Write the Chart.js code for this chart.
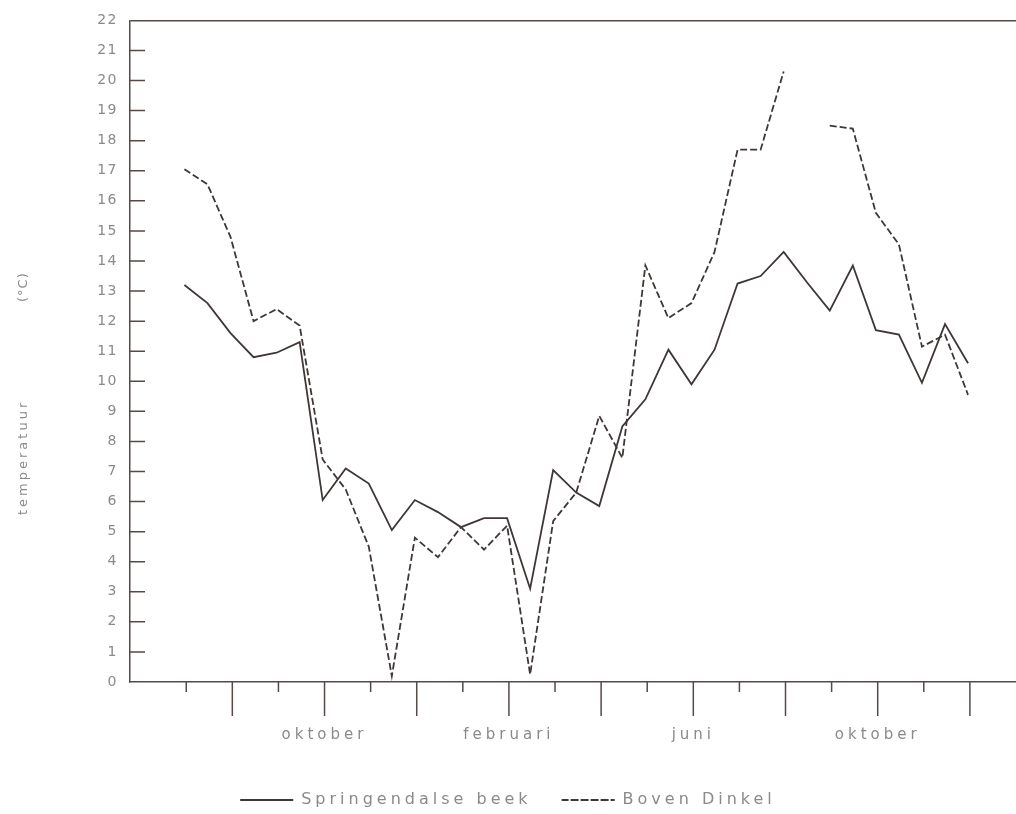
<!DOCTYPE html>
<html>
<head>
<meta charset="utf-8">
<title>temperatuur</title>
<script src="https://cdn.jsdelivr.net/npm/chart.js@4/dist/chart.umd.min.js"></script>
<style>
  html, body { margin: 0; padding: 0; background: #fff; }
  #wrap { width: 1016px; height: 814px; }
</style>
</head>
<body>
<div id="wrap"><canvas id="temperatuur"></canvas></div>
<script>
// bemonsteringsmomenten in maanden (7 = juli, 10 = oktober, 14 = februari, 18 = juni, 22 = oktober)
const maanden = [6.96, 7.46, 7.96, 8.46, 8.96, 9.46, 9.96, 10.46, 10.96, 11.46, 11.96, 12.46,
    12.96, 13.46, 13.96, 14.46, 14.96, 15.46, 15.96, 16.46, 16.96, 17.46, 17.96, 18.46,
    18.96, 19.46, 19.96, 20.46, 20.96, 21.46, 21.96, 22.46, 22.96, 23.46, 23.96]

const springendalse = [13.2, 12.6, 11.6, 10.8, 10.95, 11.3, 6.05, 7.1, 6.6, 5.05, 6.05, 5.65,
    5.15, 5.45, 5.45, 3.1, 7.05, 6.3, 5.85, 8.5, 9.4, 11.05, 9.9, 11.05,
    13.25, 13.5, 14.3, 13.3, 12.35, 13.85, 11.7, 11.55, 9.95, 11.9, 10.6]

const bovenDinkel = [17.05, 16.55, 14.8, 12.0, 12.4, 11.85, 7.4, 6.4, 4.5, 0.2, 4.8, 4.15,
    5.15, 4.4, 5.2, 0.25, 5.35, 6.3, 8.85, 7.45, 13.85, 12.1, 12.6, 14.3,
    17.7, 17.7, 20.3, null, 18.5, 18.4, 15.6, 14.55, 11.15, 11.55, 9.55]

const maandStreepjes = [7, 8, 9, 10, 11, 12, 13, 14, 15, 16, 17, 18, 19, 20, 21, 22, 23, 24]
const maandNamen = { 10: 'oktober', 14: 'februari', 18: 'juni', 22: 'oktober' }
const yTicks = [0, 1, 2, 3, 4, 5, 6, 7, 8, 9, 10, 11, 12, 13, 14, 15, 16, 17, 18, 19, 20, 21, 22]

const lijnKleur = '#3f3735'
const asKleur = '#564a46'
const tekstKleur = '#8a8a8a'

const letterafstand = {
    id: 'letterafstand',
    beforeLayout(chart) { chart.ctx.letterSpacing = '4px' },
    beforeDraw(chart) { chart.ctx.letterSpacing = '4px' },
    beforeDatasetsDraw(chart) { chart.ctx.letterSpacing = '1.5px' }
}

// maatstreepjes (naar binnen op de y-as, lang/kort onder de x-as) en astitel
const streepjes = {
    id: 'streepjes',
    afterDraw(chart) {
        const { ctx, scales: { x, y } } = chart
        ctx.save()
        ctx.strokeStyle = asKleur
        ctx.lineWidth = 1.5
        ctx.beginPath()
        maandStreepjes.forEach(m => {
            const px = x.getPixelForValue(m)
            const lengte = m % 2 === 0 ? 34 : 10
            ctx.moveTo(px, y.bottom)
            ctx.lineTo(px, y.bottom + lengte)
        })
        yTicks.forEach(v => {
            if (v === 0 || v === 22) return
            const py = y.getPixelForValue(v)
            ctx.moveTo(x.left, py)
            ctx.lineTo(x.left + 15, py)
        })
        ctx.stroke()

        ctx.translate(24, 0)
        ctx.rotate(-Math.PI / 2)
        ctx.fillStyle = tekstKleur
        ctx.textBaseline = 'middle'
        ctx.textAlign = 'left'
        ctx.font = '13px "DejaVu Sans"'
        ctx.letterSpacing = '3px'
        ctx.fillText('temperatuur', -515, 0)
        ctx.letterSpacing = '1px'
        ctx.fillText('(°C)', -302, 0)
        ctx.restore()
    }
}

const ctx = document.getElementById('temperatuur').getContext('2d')
const myChart = new Chart(ctx, {
    type: 'line',
    data: {
        datasets: [{
            label: 'Springendalse beek',
            data: maanden.map((m, i) => ({ x: m, y: springendalse[i] })),
            borderColor: lijnKleur,
            backgroundColor: 'transparent',
            borderWidth: 1.8,
            pointRadius: 0,
            tension: 0
        }, {
            label: 'Boven Dinkel',
            data: maanden.map((m, i) => ({ x: m, y: bovenDinkel[i] })),
            borderColor: lijnKleur,
            backgroundColor: 'transparent',
            borderWidth: 1.8,
            borderDash: [7, 3],
            pointRadius: 0,
            tension: 0,
            spanGaps: false
        }]
    },
    options: {
        responsive: true,
        maintainAspectRatio: false,
        animation: false,
        layout: { padding: { top: 15, right: 0, bottom: -4, left: 0 } },
        scales: {
            x: {
                type: 'linear',
                min: 5.78,
                max: 25.0,
                afterBuildTicks(scale) {
                    scale.ticks = maandStreepjes.map(m => ({ value: m }))
                },
                afterFit(scale) {
                    scale.height = 136 - scale.chart.legend.height
                },
                ticks: {
                    autoSkip: false,
                    maxRotation: 0,
                    padding: 44,
                    color: tekstKleur,
                    font: { family: 'DejaVu Sans', size: 15 },
                    callback: value => maandNamen[value] || ''
                },
                grid: { drawOnChartArea: false, drawTicks: false },
                border: { display: true, color: asKleur, width: 1.5 }
            },
            y: {
                min: 0,
                max: 22,
                afterBuildTicks(scale) {
                    scale.ticks = yTicks.map(v => ({ value: v }))
                },
                afterFit(scale) {
                    scale.width = 130
                },
                ticks: {
                    z: 1,
                    padding: 12,
                    color: tekstKleur,
                    font: { family: 'DejaVu Sans', size: 14 }
                },
                grid: {
                    drawTicks: false,
                    color: c => c.tick && c.tick.value === 22 ? asKleur : 'transparent',
                    lineWidth: 1.5
                },
                border: { display: true, color: asKleur, width: 1.5 }
            }
        },
        plugins: {
            legend: {
                position: 'bottom',
                labels: {
                    boxWidth: 53,
                    boxHeight: 0,
                    padding: 30,
                    color: tekstKleur,
                    font: { family: 'DejaVu Sans', size: 16 }
                }
            },
            tooltip: { enabled: false }
        }
    },
    plugins: [letterafstand, streepjes]
});
</script>
</body>
</html>
